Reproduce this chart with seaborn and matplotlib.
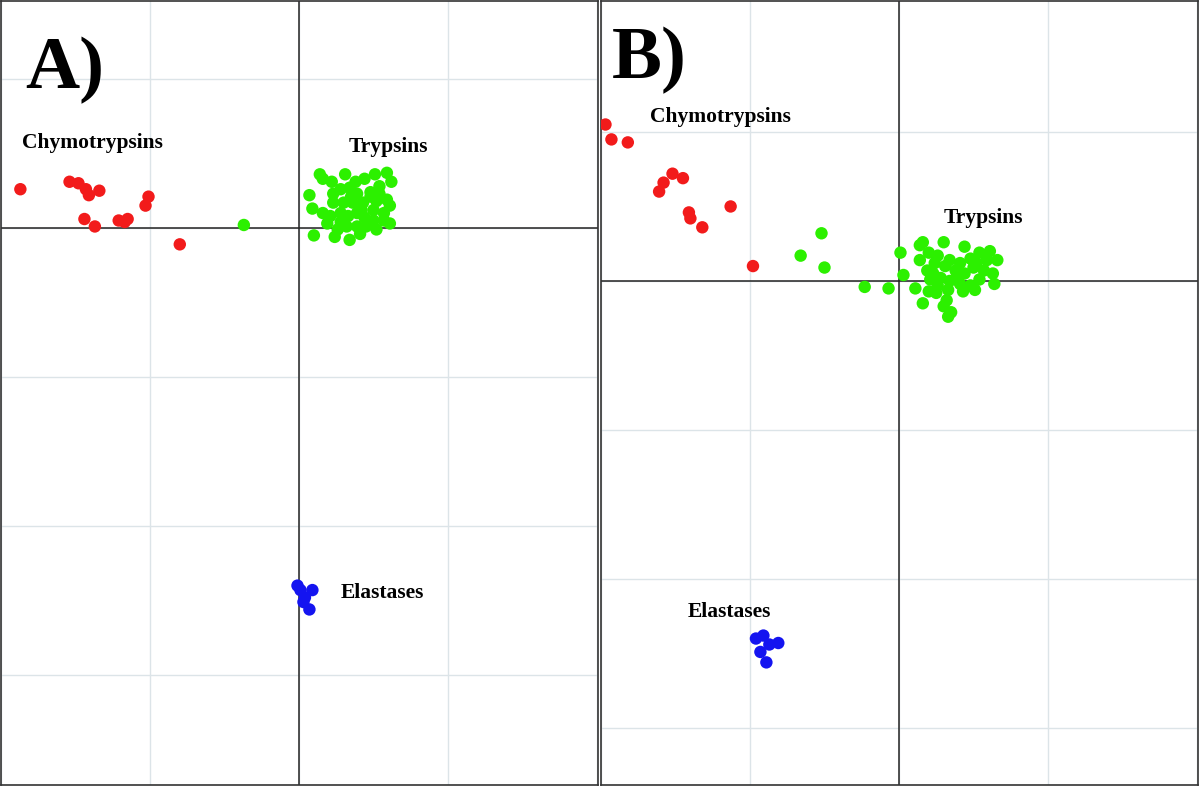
import numpy as np
import pandas as pd
import matplotlib
matplotlib.use("Agg")
import matplotlib.pyplot as plt
import seaborn as sns

# PCA scores (grid spacing = 1 unit)
# Panel A
a_chymo_x = [-1.87, -1.54, -1.48, -1.43, -1.41, -1.34, -1.01, -1.03, -1.44, -1.37, -1.21, -1.17, -1.15, -0.80]
a_chymo_y = [0.26, 0.31, 0.30, 0.26, 0.22, 0.25, 0.21, 0.15, 0.06, 0.01, 0.05, 0.04, 0.06, -0.11]
a_tryp_x = [-0.37, 0.14, 0.16, 0.22, 0.31, 0.51, 0.59, 0.62, 0.07, 0.09, 0.16, 0.19, 0.10, 0.24, 0.34,
            0.23, 0.28, 0.34, 0.39, 0.48, 0.54, 0.59, 0.61, 0.57, 0.50, 0.43, 0.36, 0.30, 0.23, 0.28,
            0.33, 0.39, 0.44, 0.50, 0.57, 0.61, 0.52, 0.45, 0.39, 0.32, 0.26, 0.28, 0.41, 0.48, 0.54,
            0.38, 0.44, 0.21, 0.35, 0.42, 0.52]
a_tryp_y = [0.02, 0.36, 0.33, 0.31, 0.36, 0.36, 0.37, 0.31, 0.22, 0.13, 0.10, 0.03, -0.05, -0.06, -0.08,
            0.23, 0.26, 0.27, 0.23, 0.24, 0.23, 0.19, 0.15, 0.10, 0.12, 0.17, 0.17, 0.17, 0.17, 0.10,
            0.08, 0.10, 0.07, 0.05, 0.05, 0.03, -0.01, 0.01, 0.01, 0.01, -0.01, 0.04, -0.04, 0.21, 0.28,
            0.31, 0.33, 0.08, 0.21, 0.12, 0.18]
a_elast_x = [-0.01, 0.01, 0.09, 0.04, 0.03, 0.07]
a_elast_y = [-2.40, -2.43, -2.43, -2.48, -2.51, -2.56]

# Panel B
b_chymo_x = [-1.97, -1.93, -1.82, -1.52, -1.45, -1.58, -1.61, -1.41, -1.40, -1.32, -1.13, -0.98]
b_chymo_y = [1.05, 0.95, 0.93, 0.72, 0.69, 0.66, 0.60, 0.46, 0.42, 0.36, 0.50, 0.10]
b_tryp_x = [-0.52, -0.66, -0.50, -0.23, -0.07, 0.01, 0.03, 0.11, 0.16, 0.14, 0.16, 0.30, 0.44,
            0.14, 0.20, 0.26, 0.34, 0.41, 0.48, 0.54, 0.61, 0.66, 0.63, 0.64, 0.57, 0.50, 0.44, 0.38,
            0.31, 0.24, 0.19, 0.21, 0.28, 0.34, 0.41, 0.48, 0.54, 0.51, 0.43, 0.33, 0.25, 0.20, 0.32,
            0.30, 0.35, 0.33, 0.23, 0.59, 0.52, 0.39, 0.26]
b_tryp_y = [0.32, 0.17, 0.09, -0.04, -0.05, 0.19, 0.04, -0.05, -0.15, 0.24, 0.26, 0.26, 0.23,
            0.14, 0.19, 0.17, 0.14, 0.12, 0.15, 0.19, 0.20, 0.14, 0.05, -0.02, 0.07, 0.09, 0.05, 0.07,
            0.10, 0.12, 0.07, 0.01, 0.02, 0.00, -0.02, -0.03, 0.01, -0.06, -0.07, -0.06, -0.08, -0.07, -0.13,
            -0.17, -0.21, -0.24, 0.05, 0.14, 0.12, 0.03, -0.03]
b_elast_x = [-0.96, -0.91, -0.87, -0.81, -0.93, -0.89]
b_elast_y = [-2.40, -2.38, -2.44, -2.43, -2.49, -2.56]

groups = ["Chymotrypsins", "Trypsins", "Elastases"]
palette = {"Chymotrypsins": "#f21b1b", "Trypsins": "#2cf000", "Elastases": "#1414f0"}


def make_frame(cx, cy, tx, ty, ex, ey):
    parts = []
    for name, xs, ys in zip(groups, [cx, tx, ex], [cy, ty, ey]):
        parts.append(pd.DataFrame({"PC1": xs, "PC2": ys, "group": name}))
    return pd.concat(parts, ignore_index=True)


df_a = make_frame(a_chymo_x, a_chymo_y, a_tryp_x, a_tryp_y, a_elast_x, a_elast_y)
df_b = make_frame(b_chymo_x, b_chymo_y, b_tryp_x, b_tryp_y, b_elast_x, b_elast_y)

sns.set_style("white")
plt.rcParams["font.family"] = ["Liberation Serif", "DejaVu Serif"]

fig = plt.figure(figsize=(12, 7.86), dpi=100)
W, H = 1200, 786

panels = [
    # data, axes box in px (left, width), xlim, ylim, panel letter, letter pos, label positions
    (df_a, 1, 597, (-2.0, 2.007), (-3.738, 1.523), "A)", (0.04, 0.889),
     {"Chymotrypsins": (-1.86, 0.57), "Trypsins": (0.33, 0.54), "Elastases": (0.28, -2.45)}),
    (df_b, 601, 597, (-2.0, 2.007), (-3.383, 1.879), "B)", (0.018, 0.902),
     {"Chymotrypsins": (-1.67, 1.10), "Trypsins": (0.30, 0.42), "Elastases": (-1.42, -2.22)}),
]

for data, left, width, xlim, ylim, letter, lpos, labels in panels:
    ax = fig.add_axes([left / W, 1 / H, width / W, 784 / H])

    sns.scatterplot(data=data, x="PC1", y="PC2", hue="group", palette=palette,
                    s=80, linewidth=0, legend=False, ax=ax, zorder=3)
    ax.set_xlabel("")
    ax.set_ylabel("")

    # ticks first, then limits (set_*ticks would widen the view otherwise)
    ax.set_xticks(np.arange(-2, 3, 1))
    ax.set_yticks(np.arange(-4, 3, 1))
    ax.set_xlim(*xlim)
    ax.set_ylim(*ylim)
    ax.grid(True, color="#dce4e8", lw=1.0)
    ax.set_axisbelow(True)
    ax.tick_params(left=False, bottom=False, labelleft=False, labelbottom=False)
    ax.axhline(0, color="#222222", lw=1.1, zorder=1)
    ax.axvline(0, color="#222222", lw=1.1, zorder=1)
    for s in ax.spines.values():
        s.set_color("#333333")
        s.set_linewidth(1.2)

    for name, (tx, ty) in labels.items():
        ax.text(tx, ty, name, fontsize=15.5, fontweight="bold", color="black",
                ha="left", va="center")
    ax.text(lpos[0], lpos[1], letter, transform=ax.transAxes, fontsize=54,
            fontweight="bold", color="black", ha="left", va="baseline")

fig.savefig("out.png", dpi=100)
